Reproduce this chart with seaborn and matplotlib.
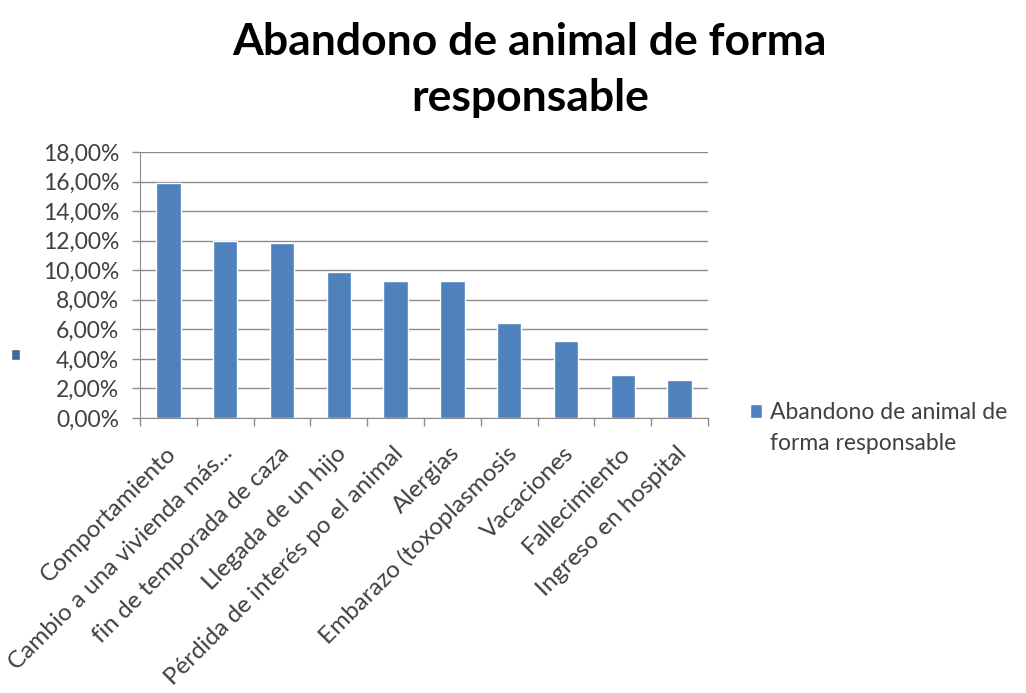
import pandas as pd
import seaborn as sns
import matplotlib.pyplot as plt
from matplotlib.patches import Patch
from matplotlib.transforms import ScaledTranslation

OUT_FILE = "out.png"

CATEGORIES = [
    "Comportamiento",
    "Cambio a una vivienda más...",
    "fin de temporada de caza",
    "Llegada de un hijo",
    "Pérdida de interés po el animal",
    "Alergias",
    "Embarazo (toxoplasmosis",
    "Vacaciones",
    "Fallecimiento",
    "Ingreso en hospital",
]
PERCENTS = [15.9, 12.0, 11.85, 9.9, 9.3, 9.3, 6.4, 5.2, 2.9, 2.6]
Y_TICKS = [0, 2, 4, 6, 8, 10, 12, 14, 16, 18]

LEGEND_LINES = ["Abandono de animal de", "forma responsable"]
BAR_COLOR = "#4F81BD"
TEXT_COLOR = "#404040"
GRID_COLOR = "#8c8c8c"

sns.set_style("white")
plt.rcParams['font.family'] = ['Lato', 'DejaVu Sans']

df = pd.DataFrame({"cat": CATEGORIES, "pct": PERCENTS})

fig = plt.figure(figsize=(10.26, 6.93), dpi=100)
ax = fig.add_axes([140 / 1026, 1 - 418 / 693, 568 / 1026, 266 / 693])

sns.barplot(data=df, x="cat", y="pct", color=BAR_COLOR, saturation=1,
            width=0.43, ax=ax)

ax.set_ylim(0, 18)
ax.set_xlim(-0.5, len(CATEGORIES) - 0.5)
ax.set_yticks(Y_TICKS)
ax.set_yticklabels([f"{v:.2f}%".replace(".", ",") for v in Y_TICKS],
                   fontsize=16.5, color=TEXT_COLOR)
ax.yaxis.grid(True, color=GRID_COLOR, linewidth=1)
ax.set_axisbelow(True)
ax.set_xlabel("")
ax.set_ylabel("")

# tick marks sit on the category boundaries, labels under the bars
ax.set_xticks([i - 0.5 for i in range(len(CATEGORIES) + 1)])
ax.set_xticklabels([])
ax.tick_params(axis="x", which="major", length=6, color=GRID_COLOR, width=1,
               direction="out", bottom=True)
ax.tick_params(axis="y", length=6, color=GRID_COLOR, width=1, left=True,
               direction="out", pad=9)
ax.set_xticks(range(len(CATEGORIES)), minor=True)
ax.set_xticklabels(CATEGORIES, minor=True, rotation=45, ha="right",
                   va="center", rotation_mode="anchor", fontsize=17.5,
                   color=TEXT_COLOR)
ax.tick_params(axis="x", which="minor", length=0, pad=23)
shift = ScaledTranslation(4 / 100, 0, fig.dpi_scale_trans)
for lbl in ax.get_xticklabels(minor=True):
    lbl.set_transform(lbl.get_transform() + shift)

for side in ["top", "right"]:
    ax.spines[side].set_visible(False)
ax.spines["left"].set_color(GRID_COLOR)
ax.spines["bottom"].set_color(GRID_COLOR)

fig.text(530 / 1026, 1 - 70 / 693, "Abandono de animal de forma\nresponsable",
         ha="center", va="center", fontsize=32, fontweight="bold",
         color="black", linespacing=1.5)

fig.legend(handles=[Patch(facecolor=BAR_COLOR), Patch(visible=False)],
           labels=LEGEND_LINES,
           loc="center left", bbox_to_anchor=(729 / 1026, 1 - 428 / 693),
           frameon=False, fontsize=16.5, handlelength=0.55, handleheight=0.55,
           handletextpad=0.35, labelcolor=TEXT_COLOR, labelspacing=0.45)

# stray empty legend key on the left, as in the source chart
fig.legend(handles=[Patch(facecolor="#3f6aa0")], labels=[""],
           loc="center left", bbox_to_anchor=(-2 / 1026, 1 - 355 / 693),
           frameon=False, handlelength=0.65, handleheight=0.85)

fig.savefig(OUT_FILE, dpi=100)
